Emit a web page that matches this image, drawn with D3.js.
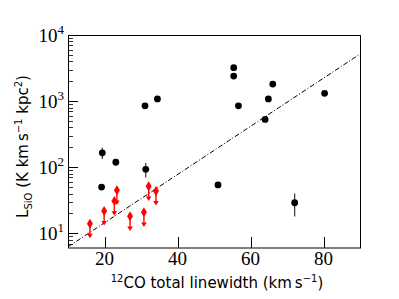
<!DOCTYPE html>
<html>
<head>
<meta charset="utf-8">
<script src="https://cdn.jsdelivr.net/npm/d3@7"></script>
<style>
  body { margin: 0; background: #fff; }
  svg { display: block; }
  .tick-label { font-family: "Liberation Serif", "DejaVu Serif", serif; font-size: 19px; fill: #000; }
  .axis-label { font-family: "DejaVu Sans", "Liberation Sans", sans-serif; font-size: 15px; fill: #000; }
</style>
</head>
<body>
<div id="chart"></div>
<script>
(function()
{
    // detections (black points)
    var detX   = [31.1, 34.5, 55.4, 55.4, 66.1, 64.9, 56.7, 64.0, 80.3, 19.4, 23.1, 31.3, 19.2, 51.1, 72.1];
    var detY   = [850, 1080, 3200, 2390, 1810, 1080, 850, 528, 1310, 165, 119, 93, 50, 54, 29];
    var detErr = [0, 0, 0, 0, 0, 0, 0, 0, 0, 32, 0, 23, 0, 0, 11];

    // upper limits (red)
    var limX = [16.0, 19.9, 22.7, 23.4, 27.0, 30.8, 32.1, 34.1];
    var limY = [14.0, 21.8, 30.8, 44.9, 18.1, 20.8, 51.5, 43.8];
    var limFrac = 0.6; // arrow reaches down to this fraction of the limit

    // fitted relation (dash-dot)
    var fitX = [10, 90];
    var fitY = [6.24, 5150];

    var xTicks = [20, 40, 60, 80];
    var yTicks = [10, 100, 1000, 10000];
    var yTickExp = ["1", "2", "3", "4"];

    var W = 399, H = 299;
    var margin = {top: 35, right: 39, bottom: 51, left: 68};
    var w = W - margin.left - margin.right;
    var h = H - margin.top - margin.bottom;

    var svg = d3.select("#chart").append("svg")
        .attr("width", W)
        .attr("height", H);
    var g = svg.append("g")
        .attr("transform", "translate(" + margin.left + "," + margin.top + ")");

    var x = d3.scaleLinear().domain([10, 90]).range([0, w]);
    var y = d3.scaleLog().domain([6, 10000]).range([h, 0]);

    // minor ticks on y
    var minor = [];
    [1, 10, 100, 1000].forEach(function(dec) {
        for (var k = 2; k <= 9; k++) {
            var v = k * dec;
            if (v > 6 && v < 10000) minor.push(v);
        }
    });

    g.selectAll("line.ymin").data(minor).enter().append("line")
        .attr("class", "ymin")
        .attr("x1", 0).attr("x2", 5)
        .attr("y1", function(d) { return Math.round(y(d)) + 0.5; })
        .attr("y2", function(d) { return Math.round(y(d)) + 0.5; })
        .attr("stroke", "#000").attr("stroke-width", 0.8);

    g.selectAll("line.ymaj").data(yTicks).enter().append("line")
        .attr("class", "ymaj")
        .attr("x1", 0).attr("x2", 10)
        .attr("y1", function(d) { return Math.round(y(d)) + 0.5; })
        .attr("y2", function(d) { return Math.round(y(d)) + 0.5; })
        .attr("stroke", "#000").attr("stroke-width", 1);

    var yl = g.selectAll("text.ylab").data(yTicks).enter().append("text")
        .attr("class", "tick-label ylab")
        .attr("x", -4)
        .attr("y", function(d) { return y(d) + 7; })
        .attr("text-anchor", "end");
    yl.append("tspan").text("10");
    yl.append("tspan")
        .attr("dy", -8)
        .style("font-size", "13px")
        .text(function(d, i) { return yTickExp[i]; });

    g.selectAll("line.xmaj").data(xTicks).enter().append("line")
        .attr("class", "xmaj")
        .attr("x1", function(d) { return Math.round(x(d)) + 0.5; })
        .attr("x2", function(d) { return Math.round(x(d)) + 0.5; })
        .attr("y1", h).attr("y2", h - 11)
        .attr("stroke", "#000").attr("stroke-width", 1);

    g.selectAll("text.xlab").data(xTicks).enter().append("text")
        .attr("class", "tick-label xlab")
        .attr("x", function(d) { return x(d); })
        .attr("y", h + 17)
        .attr("text-anchor", "middle")
        .text(function(d) { return d; });

    // fit line
    var line = d3.line()
        .x(function(d) { return x(d[0]); })
        .y(function(d) { return y(d[1]); });
    g.append("path")
        .datum(d3.zip(fitX, fitY))
        .attr("d", line)
        .attr("fill", "none")
        .attr("stroke", "#000")
        .attr("stroke-width", 1)
        .attr("stroke-dasharray", "5,2,1,2");

    // detections
    var det = d3.range(detX.length).map(function(i) {
        return {x: detX[i], y: detY[i], e: detErr[i]};
    });
    g.selectAll("line.err").data(det.filter(function(d) { return d.e > 0; }))
        .enter().append("line")
        .attr("class", "err")
        .attr("x1", function(d) { return x(d.x); })
        .attr("x2", function(d) { return x(d.x); })
        .attr("y1", function(d) { return y(d.y + d.e); })
        .attr("y2", function(d) { return y(d.y - d.e); })
        .attr("stroke", "#333").attr("stroke-width", 1.2);
    g.selectAll("circle.det").data(det).enter().append("circle")
        .attr("class", "det")
        .attr("cx", function(d) { return x(d.x); })
        .attr("cy", function(d) { return y(d.y); })
        .attr("r", 3.4)
        .attr("fill", "#000");

    // upper limits
    var lim = d3.range(limX.length).map(function(i) {
        return {x: limX[i], y: limY[i]};
    });
    var lg = g.selectAll("g.lim").data(lim).enter().append("g")
        .attr("class", "lim")
        .attr("transform", function(d) { return "translate(" + x(d.x) + ",0)"; });
    lg.append("line")
        .attr("x1", 0).attr("x2", 0)
        .attr("y1", function(d) { return y(d.y); })
        .attr("y2", function(d) { return y(d.y * limFrac) - 3; })
        .attr("stroke", "#f00").attr("stroke-width", 1.4);
    lg.append("path")
        .attr("d", function(d) {
            var t = y(d.y * limFrac);
            return "M-2.8," + (t - 4.5) + "L2.8," + (t - 4.5) + "L0," + t + "Z";
        })
        .attr("fill", "#f00");
    lg.append("path")
        .attr("d", function(d) {
            var c = y(d.y);
            return "M0," + (c - 5) + "L3,"+ c + "L0," + (c + 5) + "L-3," + c + "Z";
        })
        .attr("fill", "#f00");

    // frame
    g.append("rect")
        .attr("x", 0.5).attr("y", 0.5)
        .attr("width", w).attr("height", h - 0.5)
        .attr("fill", "none")
        .attr("stroke", "#000").attr("stroke-width", 1);

    // axis labels
    var xt = svg.append("text")
        .attr("class", "axis-label")
        .attr("x", margin.left + w / 2 + 3)
        .attr("y", 288)
        .attr("text-anchor", "middle");
    xt.append("tspan").attr("dy", -6).style("font-size", "10px").text("12");
    xt.append("tspan").attr("dy", 6).text("CO total linewidth (km\u2009s");
    xt.append("tspan").attr("dy", -6).style("font-size", "10px").text("\u22121");
    xt.append("tspan").attr("dy", 6).text(")");

    var yt = svg.append("text")
        .attr("class", "axis-label")
        .attr("transform", "translate(28," + (margin.top + h / 2 + 5) + ") rotate(-90)")
        .attr("text-anchor", "middle");
    yt.append("tspan").text("L");
    yt.append("tspan").attr("dy", 4).style("font-size", "10px").text("SiO");
    yt.append("tspan").attr("dy", -4).text(" (K km\u2009s");
    yt.append("tspan").attr("dy", -6).style("font-size", "10px").text("\u22121");
    yt.append("tspan").attr("dy", 6).text(" kpc");
    yt.append("tspan").attr("dy", -6).style("font-size", "10px").text("2");
    yt.append("tspan").attr("dy", 6).text(")");
})();
</script>
</body>
</html>
